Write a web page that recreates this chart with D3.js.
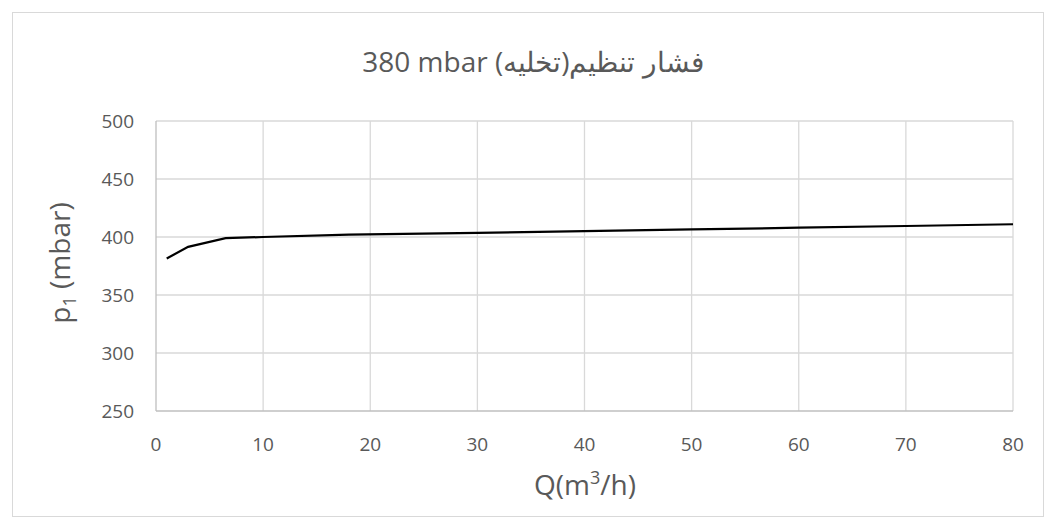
<!DOCTYPE html>
<html>
<head>
<meta charset="utf-8">
<script src="https://d3js.org/d3.v7.min.js"></script>
<style>
  body { margin: 0; background: #fff; }
  text { font-family: "Open Sans", "Noto Sans", sans-serif; fill: #595959; }
</style>
</head>
<body>
<script>
// data
const flowQ = [1, 3, 6.5, 10, 18, 30, 40, 50, 60, 70, 80];
const pressure = [381.5, 391.5, 399, 400, 402, 403.5, 405, 406.5, 408, 409.5, 411];
const xTicks = [0, 10, 20, 30, 40, 50, 60, 70, 80];
const yTicks = [250, 300, 350, 400, 450, 500];

const W = 1055, H = 529;
const plotLeft = 156, plotRight = 1013, plotTop = 121, plotBottom = 411;

const svg = d3.select("body").append("svg")
  .attr("width", W).attr("height", H);

// chart border
svg.append("rect")
  .attr("x", 12.5).attr("y", 12.5)
  .attr("width", 1031).attr("height", 504)
  .attr("fill", "#fff").attr("stroke", "#d9d9d9");

const x = d3.scaleLinear().domain([0, 80]).range([plotLeft, plotRight]);
const y = d3.scaleLinear().domain([250, 500]).range([plotBottom, plotTop]);

// gridlines
svg.append("g").selectAll("line")
  .data(xTicks.slice(1))
  .enter().append("line")
  .attr("x1", d => x(d)).attr("x2", d => x(d))
  .attr("y1", plotTop).attr("y2", plotBottom)
  .attr("stroke", "#d9d9d9").attr("stroke-width", 1.3);

svg.append("g").selectAll("line")
  .data(yTicks.slice(1))
  .enter().append("line")
  .attr("x1", plotLeft).attr("x2", plotRight)
  .attr("y1", d => y(d)).attr("y2", d => y(d))
  .attr("stroke", "#d9d9d9").attr("stroke-width", 1.3);

// axes lines
svg.append("line")
  .attr("x1", plotLeft).attr("x2", plotRight).attr("y1", plotBottom).attr("y2", plotBottom)
  .attr("stroke", "#bfbfbf").attr("stroke-width", 1.3);
svg.append("line")
  .attr("x1", plotLeft).attr("x2", plotLeft).attr("y1", plotTop).attr("y2", plotBottom)
  .attr("stroke", "#bfbfbf").attr("stroke-width", 1.3);

// tick labels
svg.append("g").selectAll("text")
  .data(xTicks).enter().append("text")
  .attr("x", d => x(d)).attr("y", plotBottom + 40)
  .attr("text-anchor", "middle")
  .style("font-size", "19px")
  .text(d => d);

svg.append("g").selectAll("text")
  .data(yTicks).enter().append("text")
  .attr("x", plotLeft - 22).attr("y", d => y(d) + 7)
  .attr("text-anchor", "end")
  .style("font-size", "19px")
  .text(d => d);

// line
const line = d3.line().x((d, i) => x(flowQ[i])).y(d => y(d));
svg.append("path")
  .datum(pressure)
  .attr("d", line)
  .attr("fill", "none")
  .attr("stroke", "#000")
  .attr("stroke-width", 2.2);

// title (right-to-left paragraph, latin part isolated)
svg.append("text")
  .attr("x", 533).attr("y", 72)
  .attr("text-anchor", "middle")
  .attr("direction", "rtl")
  .style("font-size", "28px")
  .text("فشار تنظیم(تخلیه) \u2066380 mbar\u2069");

// x axis title
const xt = svg.append("text")
  .attr("x", 585).attr("y", 495)
  .attr("text-anchor", "middle")
  .style("font-size", "28px");
xt.append("tspan").text("Q(m");
xt.append("tspan").attr("dy", -11).style("font-size", "18px").text("3");
xt.append("tspan").attr("dy", 11).text("/h)");

// y axis title
const yt = svg.append("text")
  .attr("transform", "translate(70,263) rotate(-90)")
  .attr("text-anchor", "middle")
  .style("font-size", "28px");
yt.append("tspan").text("p");
yt.append("tspan").attr("dy", 6).style("font-size", "18px").text("1");
yt.append("tspan").attr("dy", -6).text(" (mbar)");
</script>
</body>
</html>
